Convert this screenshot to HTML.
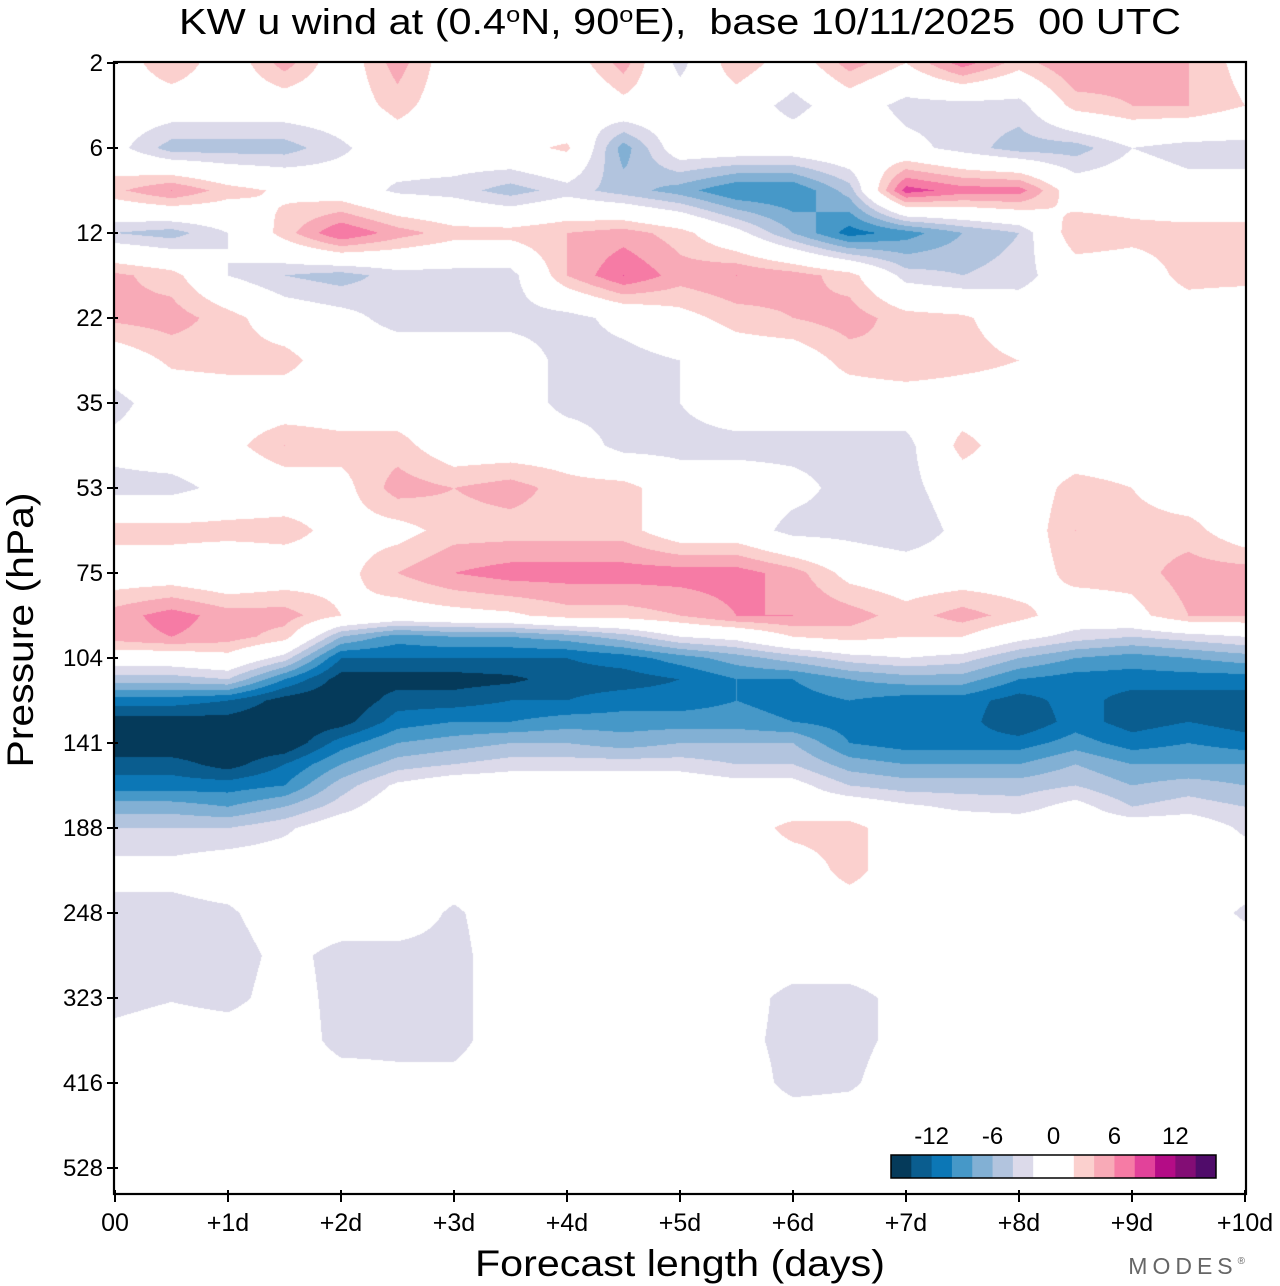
<!DOCTYPE html>
<html><head><meta charset="utf-8"><title>KW u wind</title>
<style>
html,body{margin:0;padding:0;background:#fff;}
#wrap{position:relative;width:1280px;height:1286px;overflow:hidden;font-family:"Liberation Sans",sans-serif;}
#plot{position:absolute;left:115px;top:63px;}
#ov{position:absolute;left:0;top:0;}
</style></head>
<body>
<div id="wrap">
<canvas id="plot" width="1130" height="1130"></canvas>
<svg id="ov" width="1280" height="1286" font-family="Liberation Sans, sans-serif">
  <text x="680" y="34" text-anchor="middle" font-size="36" textLength="1002" lengthAdjust="spacingAndGlyphs">KW u wind at (0.4<tspan dy="-12" font-size="22">o</tspan><tspan dy="12">N, 90</tspan><tspan dy="-12" font-size="22">o</tspan><tspan dy="12">E),&#160; base 10/11/2025&#160; 00 UTC</tspan></text>
  <g id="axes"></g>
  <text transform="translate(33,630) rotate(-90)" text-anchor="middle" font-size="37" textLength="275" lengthAdjust="spacingAndGlyphs">Pressure (hPa)</text>
  <text x="680" y="1276" text-anchor="middle" font-size="37" textLength="410" lengthAdjust="spacingAndGlyphs">Forecast length (days)</text>
  <text x="1250" y="1274" text-anchor="end" font-size="23" fill="#666" letter-spacing="5">MODES<tspan font-size="10" dy="-10">®</tspan></text>
  <g id="cbar"></g>
</svg>
</div>
<script>
// ---- data ----
const times = [0,0.5,1,1.5,2,2.5,3,3.5,4,4.5,5,5.5,6,6.5,7,7.5,8,8.5,9,9.5,10];
const levelIdx = [0,0.5,1,1.5,2,2.5,3,3.5,4,4.5,5,5.5,6,6.5,6.75,7,7.25,7.5,7.75,8,8.25,8.5,8.75,9,9.5,10,10.5,11,11.5,12,12.5,13,13.3];
const pressureLabels = ["2","6","12","22","35","53","75","104","141","188","248","323","416","528"];
const dayLabels = ["00","+1d","+2d","+3d","+4d","+5d","+6d","+7d","+8d","+9d","+10d"];
const cbarLabels = ["-12","-6","0","6","12"];
const cbarLabelVals = [-12,-6,0,6,12];
const levels = [-14,-12,-10,-8,-6,-4,-2,2,4,6,8,10,12,14];
const colors = ["#053a5a","#0a5d8f","#0c77b6","#4698c8","#82b0d4","#b2c4de","#dcdaea","#ffffff","#fbd0ce","#f8aab7","#f67ba5","#e2429a","#b40c86","#830d75","#500c6a"];
const u = [
[0,4,0,5,0,5,0,0,0,5,-3,4,0,5,2,7,3,6,5,4,1],
[0,0,0,0,0,3,0,0,-2,1,0,0,-3,0,-3,-3,-3,3,4,4,2],
[-1,-5,-5,-5,-2.5,0,0,1,2.5,-7,0,0,0,1,-1,-3,-5,-5,-2,-3,-3],
[3.5,6,3,1.5,0,-2.5,-3,-5,-3,-5,-7,-10,-10,-5,9,7,7,0,0,-1,-1],
[-4,-5,-2,3,8,5,3,3,4,5,3,-1,-6,-11,-9,-6,-4,4,3,3,3],
[4.5,3,-2,-4,-5,-3,-3,-3,4,8,5,6,5,3,-3,-4,-3,0,0,3,3],
[4.5,5,3,0,-1,-3,-3,-3,-3,-1,1,3,4,5,3,2.5,0,0,0,0,-1],
[0,2.5,3,3,0,0,0,0,-3,-3,-2,0,0,3,4,3,2,0,0,0,-2],
[-3,0,0,0,0,0,0,0,-3,-3,-2,0,0,0,0,0,0,0,0,0,-2],
[-1,0,1,4,3,3,0,0,0,-3,-3,-3,-3,-3,-3,3,0,0,0,0,0],
[-3,-3,-1,0,1,5,4,5,3,3,0,0,-1,-3,-3,0,0,3,2,0,0],
[3,3,3,3,1,1,3,3,3,3,0,0,-3,-3,-4,-1,0,4,3,3,0],
[0,0,-1,0,1,4,6,7,7,7,7,7,5,1,0,0,0,3,3,5,5],
[5,7,5,5,2,0.5,1,1.5,3,3,4,6,6,5,3,5,3,0,1,4,4],
[5,6,5,3,-6,-9,-8,-8,-7,-5,-2,-1,2,3,2,2,-1,-3,-4,-3,-2],
[0,0,1,-3,-12,-12,-12,-12,-12,-11,-9,-7,-5,-3,-2,-3,-6,-8,-9,-8,-7],
[-5,-5,-4,-10,-15,-15,-15,-14.5,-13,-13,-12,-10,-10,-8,-7,-7,-10,-11,-11,-11,-11],
[-11,-11,-12,-15,-16,-13,-13,-12,-12,-11,-11,-10,-11,-10,-11,-11,-13,-11,-13,-13,-13],
[-15,-15,-15,-16,-15,-11,-10,-10,-9,-9,-9,-9,-10,-11,-11,-11,-14,-11,-13,-12,-13],
[-16,-16,-16,-16,-11,-8,-7,-6,-6,-7,-6,-6,-6,-10,-11,-11,-11,-9,-11,-10,-11],
[-13,-13,-15,-12,-8,-5,-4,-3,-3,-3,-3,-4,-4,-7,-8,-8,-8,-6,-8,-8,-8],
[-11,-11,-11,-10,-5,-1.5,0,0,0,0,0,-1,-1,-4,-5,-5,-5,-4,-6,-5,-6],
[-7,-7,-8,-6,-3,0,0,0,0,0,0,0,0,0,-1.5,-2.5,-3,-1,-4,-3,-4],
[-4,-4,-4,-2.5,0,0,0,0,0,0,0,0,3,3,0,0,0,0,0,0,-2.5],
[-1,-1,0,0,0,0,0,0,0,0,0,0,0,3,0,0,0,0,0,0,0],
[-3,-3,-2.5,0,0,0,-2.5,0,0,0,0,0,0,0,0,0,0,0,0,0,-2.5],
[-3,-4,-3.5,-1,-3,-3,-3,0,0,0,0,0,0,0,0,0,0,0,0,0,0],
[-3,-2.2,-3,-0.5,-3,-3,-3,0,0,0,0,-0.5,-3,-3,-1,0,0,0,0,0,0],
[-0.9,0,0,0,-3,-3,-3,0,0,0,0,-1,-3,-3,-1,0,0,0,0,0,0],
[0,0,0,0,-0.5,-1,-1,0,0,0,0,0,-3,-2.5,0,0,0,0,0,0,0],
[0,0,0,0,0,0,0,0,0,0,0,0,0,0,0,0,0,0,0,0,0],
[0,0,0,0,0,0,0,0,0,0,0,0,0,0,0,0,0,0,0,0,0],
[0,0,0,0,0,0,0,0,0,0,0,0,0,0,0,0,0,0,0,0,0]
];

// ---- axes functions ----
const X0 = 115, X1 = 1245, Y0 = 63, TICK = 85;
function xScale(t){ return X0 + (t/10)*(X1-X0); }
function yScale(idx){ return Y0 + idx*TICK; }
function hex(c){ return [parseInt(c.substr(1,2),16),parseInt(c.substr(3,2),16),parseInt(c.substr(5,2),16)]; }

// ---- contour raster ----
(function(){
  const cv = document.getElementById('plot');
  const ctx = cv.getContext('2d');
  const W = cv.width, H = cv.height;
  const img = ctx.createImageData(W,H);
  const rgb = colors.map(hex);
  const nT = times.length, nL = levelIdx.length;
  const rowA = new Int32Array(H), rowF = new Float32Array(H);
  for(let py=0; py<H; py++){
    const li = (py+0.5)/TICK;
    let r=0; while(r<nL-2 && levelIdx[r+1]<li) r++;
    let f=(li-levelIdx[r])/(levelIdx[r+1]-levelIdx[r]); f=Math.max(0,Math.min(1,f));
    rowA[py]=r; rowF[py]=f;
  }
  for(let px=0; px<W; px++){
    const tv = ((px+0.5)/(X1-X0))*10;
    let c=0; while(c<nT-2 && times[c+1]<tv) c++;
    let g=(tv-times[c])/(times[c+1]-times[c]); g=Math.max(0,Math.min(1,g));
    for(let py=0; py<H; py++){
      const r=rowA[py], f=rowF[py];
      const v = (u[r][c]*(1-g)+u[r][c+1]*g)*(1-f) + (u[r+1][c]*(1-g)+u[r+1][c+1]*g)*f;
      let k=0; while(k<levels.length && v>=levels[k]) k++;
      const col=rgb[k], i=(py*W+px)*4;
      img.data[i]=col[0]; img.data[i+1]=col[1]; img.data[i+2]=col[2]; img.data[i+3]=255;
    }
  }
  ctx.putImageData(img,0,0);
})();

// ---- axes ----
(function(){
  const NS='http://www.w3.org/2000/svg';
  const g=document.getElementById('axes');
  function mk(tag,attrs){ const e=document.createElementNS(NS,tag); for(const k in attrs) e.setAttribute(k,attrs[k]); g.appendChild(e); return e; }
  const frame=mk('rect',{x:X0-1,y:Y0-1,width:X1-X0+2,height:1194-Y0+1,fill:'none',stroke:'#000','stroke-width':2.2});
  
  
  pressureLabels.forEach((lab,i)=>{
    const y=yScale(i);
    const t=mk('line',{x1:107,x2:118,y1:y,y2:y,stroke:'#000','stroke-width':2});
    
    
    const tx=mk('text',{x:103,y:y+8,'text-anchor':'end','font-size':24});
    tx.textContent=lab;
    
    
  });
  dayLabels.forEach((lab,i)=>{
    const x=xScale(i);
    const t=mk('line',{x1:x,x2:x,y1:1190,y2:1202,stroke:'#000','stroke-width':2});
    
    
    const tx=mk('text',{x:x,y:1231,'text-anchor':'middle','font-size':25});
    tx.textContent=lab;
    
    
  });
  // colorbar
  const cb=document.getElementById('cbar');
  function mkc(tag,attrs){ const e=document.createElementNS(NS,tag); for(const k in attrs) e.setAttribute(k,attrs[k]); cb.appendChild(e); return e; }
  const bx=891, bw=325/16, by=1155, bh=23;
  let pos=0;
  colors.forEach((c,i)=>{
    const w = (c==='#ffffff') ? 2*bw : bw;
    const r=mkc('rect',{x:bx+pos,y:by,width:w+0.5,height:bh,fill:c});
    
    
    pos+=w;
  });
  mkc('rect',{x:bx,y:by,width:325,height:bh,fill:'none',stroke:'#000','stroke-width':1.5});
  cbarLabels.forEach((lab,i)=>{
    const x = bx + (cbarLabelVals[i]+16)/2*bw;
    const t=mkc('text',{x:x,y:1144,'text-anchor':'middle','font-size':24});
    t.textContent=lab;
    
    
  });
})();
</script>
</body></html>
